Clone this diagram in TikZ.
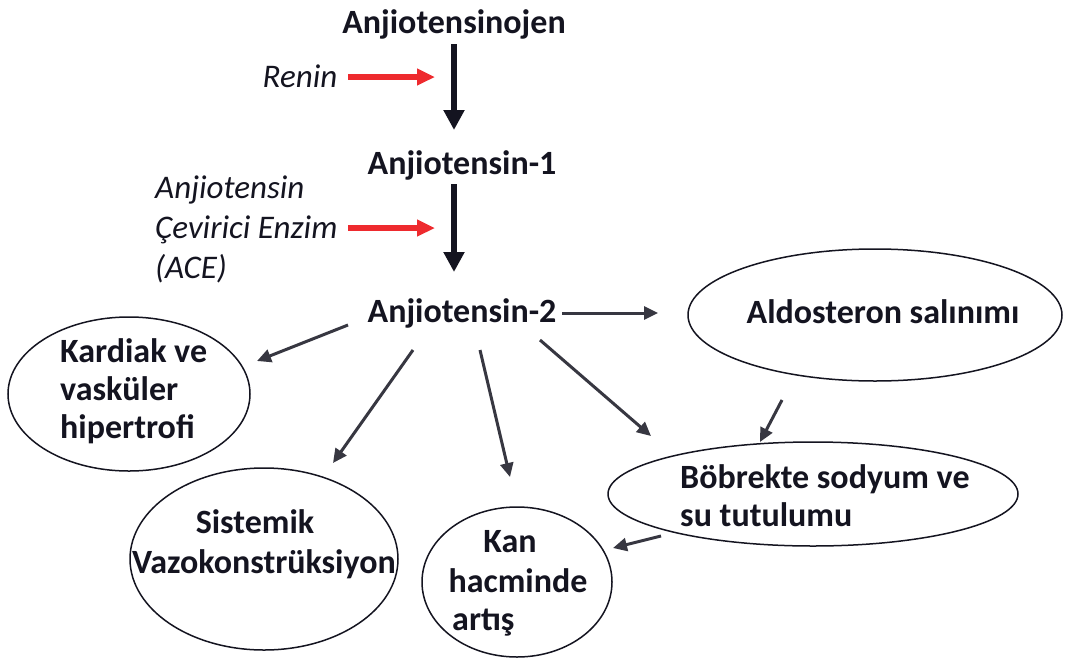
\documentclass[tikz,border=0pt]{standalone}
\usepackage{fontspec}
\setmainfont{Carlito}
\usetikzlibrary{arrows.meta,shapes.geometric}
\definecolor{ink}{HTML}{141420}
\definecolor{enzred}{HTML}{EE2A2E}
\begin{document}
\begin{tikzpicture}[x=1pt,y=-1pt,
  lbl/.style={font=\fontsize{34}{38}\selectfont\bfseries, text=ink, inner sep=0pt},
  enz/.style={font=\fontsize{33}{40}\selectfont\itshape, text=ink, inner sep=0pt},
  bubble/.style={draw=ink, line width=1.5pt, ellipse, inner sep=0pt},
  mainarrow/.style={draw=ink, line width=5.5pt, -{Triangle[length=20pt,width=20pt]}},
  redarrow/.style={draw=enzred, line width=5.5pt, -{Triangle[length=18pt,width=16pt]}},
  sidearrow/.style={draw=ink!85, line width=3pt, -{Triangle[length=14pt,width=13pt]}}]
\useasboundingbox (0,0) rectangle (1073,659);
\fill[white] (0,0) rectangle (1073,659);

% cascade (multi-line nodes are placed by the baseline of their last line)
\node[lbl, anchor=base] (agt) at (454,33) {Anjiotensinojen};
\node[lbl, anchor=base] (a1) at (462,174) {Anjiotensin-1};
\node[lbl, anchor=base] (a2) at (462,322) {Anjiotensin-2};
\node[enz, anchor=base] (ren) at (300,87) {Renin};
\node[enz, anchor=base west, align=left] (ace) at (155,278) {Anjiotensin\\Çevirici Enzim\\(ACE)};

\coordinate (s1) at (454,44);  \coordinate (e1) at (454,130);
\coordinate (s2) at (454,184); \coordinate (e2) at (454,272);
\coordinate (r1) at (348,77);  \coordinate (r2) at (435,77);
\coordinate (c1) at (348,228); \coordinate (c2) at (435,228);
\draw[mainarrow] (s1) -- (e1);
\draw[mainarrow] (s2) -- (e2);
\draw[redarrow] (r1) -- (r2);
\draw[redarrow] (c1) -- (c2);

% effects of angiotensin II
\node[bubble, minimum width=374pt, minimum height=132pt] (ald) at (875,315) {};
\node[lbl, anchor=base] (aldt) at (883,323) {Aldosteron salınımı};

\node[bubble, minimum width=242pt, minimum height=154pt] (kar) at (129,394) {};
\node[lbl, anchor=base west, align=left] (kart) at (60,438) {Kardiak ve\\vasküler\\hipertrofi};

\node[bubble, minimum width=268pt, minimum height=182pt] (sis) at (264,559) {};
\node[lbl, anchor=base] (sist1) at (255,533) {Sistemik};
\node[lbl, anchor=base] (sist2) at (264,573) {Vazokonstrüksiyon};

\node[bubble, minimum width=190pt, minimum height=150pt] (kan) at (517,582) {};
\node[lbl, anchor=base] (kant1) at (510,552) {Kan};
\node[lbl, anchor=base] (kant2) at (518,592) {hacminde};
\node[lbl, anchor=base west] (kant3) at (452,630) {artış};

\node[bubble, minimum width=410pt, minimum height=104pt] (bob) at (813,494) {};
\node[lbl, anchor=base west, align=left] (bobt) at (680,526) {Böbrekte sodyum ve\\su tutulumu};

% connectors
\coordinate (a2r) at (562,313); \coordinate (aldl) at (658,313);
\coordinate (a2k) at (348,325); \coordinate (kare) at (257,361);
\coordinate (a2s) at (413,350); \coordinate (sise) at (333,463);
\coordinate (a2n) at (480,350); \coordinate (kane) at (510,477);
\coordinate (a2b) at (540,340); \coordinate (bobe) at (651,436);
\coordinate (alds) at (782,400); \coordinate (bobn) at (760,442);
\coordinate (bobs) at (661,536); \coordinate (kanr) at (613,548);

\draw[sidearrow] (a2r) -- (aldl);
\draw[sidearrow] (a2k) -- (kare);
\draw[sidearrow] (a2s) -- (sise);
\draw[sidearrow] (a2n) -- (kane);
\draw[sidearrow] (a2b) -- (bobe);
\draw[sidearrow] (alds) -- (bobn);
\draw[sidearrow] (bobs) -- (kanr);
\end{tikzpicture}
\end{document}
